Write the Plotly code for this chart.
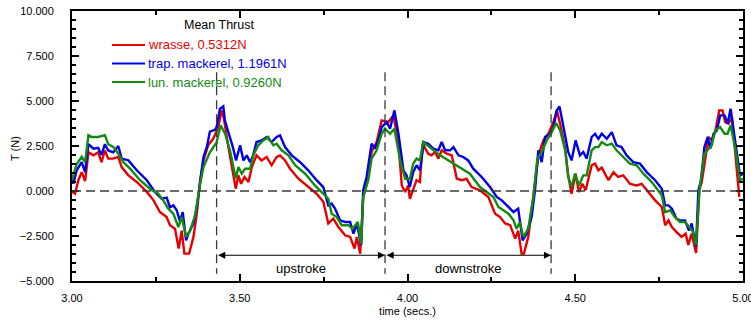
import plotly.graph_objects as go

# ---------------- data ----------------
t_wrasse = [3.000, 3.009, 3.019, 3.029, 3.039, 3.049, 3.064, 3.078, 3.088, 3.098, 3.108, 3.123, 3.138, 3.148,
            3.168, 3.193, 3.223, 3.243, 3.262, 3.282, 3.292, 3.307, 3.318, 3.327, 3.335, 3.349, 3.362, 3.372,
            3.382, 3.392, 3.406, 3.421, 3.436, 3.446, 3.453, 3.466, 3.488, 3.496, 3.504, 3.514, 3.526, 3.536,
            3.550, 3.565, 3.580, 3.595, 3.610, 3.620, 3.635, 3.650, 3.675, 3.699, 3.729, 3.749, 3.764, 3.779,
            3.794, 3.814, 3.829, 3.842, 3.849, 3.859, 3.868, 3.878, 3.893, 3.908, 3.923, 3.943, 3.958, 3.973,
            3.983, 3.993, 4.002, 4.007, 4.017, 4.027, 4.037, 4.045, 4.062, 4.072, 4.082, 4.092, 4.102, 4.117,
            4.132, 4.147, 4.162, 4.176, 4.191, 4.216, 4.241, 4.261, 4.276, 4.291, 4.306, 4.321, 4.330, 4.340,
            4.347, 4.360, 4.375, 4.390, 4.405, 4.420, 4.435, 4.445, 4.455, 4.470, 4.479, 4.489, 4.501, 4.511,
            4.521, 4.531, 4.549, 4.559, 4.569, 4.579, 4.599, 4.614, 4.628, 4.643, 4.663, 4.683, 4.698, 4.718,
            4.738, 4.758, 4.768, 4.778, 4.788, 4.802, 4.817, 4.829, 4.837, 4.847, 4.860, 4.870, 4.877, 4.887,
            4.897, 4.907, 4.917, 4.929, 4.939, 4.947, 4.957, 4.967, 4.976, 4.989]
T_wrasse = [-0.05, -0.15, 0.60, 1.05, 0.55, 2.15, 1.98, 2.15, 1.60, 2.25, 1.80, 1.80, 1.90, 1.33,
            0.87, 0.50, -0.05, -0.52, -1.17, -1.45, -1.90, -2.10, -3.20, -2.20, -3.48, -3.48, -2.55, -1.26,
            0.60, 1.70, 2.55, 2.90, 3.55, 4.48, 4.00, 2.45, 0.13, 0.87, 0.40, 0.78, 0.50, 1.33,
            1.98, 1.70, 1.89, 1.43, 1.89, 1.98, 1.70, 1.24, 0.68, 0.31, -0.15, -0.60, -1.80, -1.54,
            -2.00, -2.46, -2.55, -3.20, -2.55, -3.48, -0.33, 0.40, 2.17, 2.72, 3.92, 3.83, 4.20, 2.63,
            0.31, -0.06, 0.31, -0.43, 0.04, 0.60, 0.50, 2.63, 2.07, 1.98, 2.17, 1.80, 2.26, 2.07,
            1.98, 0.68, 0.60, 0.68, 0.22, 0.04, -0.33, -1.26, -1.45, -1.80, -1.90, -2.65, -2.20, -3.48,
            -3.48, -2.55, -0.33, 1.98, 2.81, 3.18, 3.83, 4.48, 3.74, 2.35, 0.87, -0.15, 0.96, -0.06,
            0.40, 0.04, 1.43, 1.52, 1.15, 1.30, 0.60, 1.05, 0.78, 0.87, 0.40, 0.31, 0.40, -0.06,
            -0.52, -0.89, -1.90, -1.63, -2.00, -2.28, -2.55, -2.37, -3.00, -2.37, -3.44, 0.04, 0.50, 1.70,
            3.00, 2.81, 3.27, 4.48, 4.48, 3.83, 3.74, 4.10, 2.44, -0.33]

t_trap = [3.000, 3.004, 3.014, 3.029, 3.039, 3.049, 3.064, 3.078, 3.088, 3.098, 3.108, 3.123, 3.138, 3.148,
          3.168, 3.193, 3.223, 3.247, 3.267, 3.282, 3.292, 3.302, 3.312, 3.322, 3.330, 3.340, 3.347, 3.362,
          3.372, 3.382, 3.392, 3.402, 3.411, 3.426, 3.431, 3.441, 3.451, 3.456, 3.471, 3.480, 3.489, 3.501,
          3.511, 3.521, 3.531, 3.540, 3.550, 3.565, 3.580, 3.595, 3.610, 3.620, 3.635, 3.655, 3.680, 3.704,
          3.729, 3.749, 3.764, 3.774, 3.784, 3.799, 3.814, 3.829, 3.839, 3.849, 3.862, 3.868, 3.878, 3.893,
          3.903, 3.913, 3.923, 3.938, 3.948, 3.961, 3.973, 3.988, 3.997, 4.007, 4.017, 4.027, 4.037, 4.049,
          4.062, 4.077, 4.092, 4.102, 4.112, 4.127, 4.137, 4.152, 4.166, 4.181, 4.196, 4.221, 4.246, 4.266,
          4.281, 4.296, 4.316, 4.330, 4.343, 4.355, 4.370, 4.380, 4.390, 4.400, 4.410, 4.425, 4.435, 4.445,
          4.453, 4.465, 4.479, 4.489, 4.501, 4.514, 4.524, 4.534, 4.549, 4.559, 4.569, 4.579, 4.594, 4.609,
          4.623, 4.638, 4.653, 4.673, 4.693, 4.713, 4.738, 4.758, 4.768, 4.778, 4.788, 4.802, 4.812, 4.827,
          4.839, 4.847, 4.860, 4.867, 4.875, 4.885, 4.895, 4.902, 4.912, 4.922, 4.932, 4.945, 4.954, 4.963,
          4.976, 4.991, 5.000]
T_trap = [0.87, 0.40, 1.15, 1.60, 1.05, 2.60, 2.35, 2.40, 2.00, 2.60, 2.25, 2.15, 2.50, 1.80,
          1.70, 1.15, 0.60, -0.05, -0.43, -0.37, -0.90, -0.80, -1.07, -1.70, -1.17, -2.74, -2.37, -1.80,
          -0.90, 0.60, 1.90, 2.45, 3.30, 3.40, 3.55, 4.57, 4.70, 3.90, 3.00, 2.40, 1.70, 2.54,
          1.70, 1.98, 1.60, 1.98, 2.72, 2.81, 3.00, 2.72, 3.00, 3.09, 2.44, 1.98, 1.60, 1.15,
          0.60, 0.22, -0.80, -0.70, -0.98, -1.63, -1.72, -1.72, -2.37, -1.80, -3.00, 0.04, 0.78, 2.63,
          2.35, 2.81, 3.55, 3.83, 3.46, 4.48, 3.18, 1.15, 0.87, 0.22, 1.05, 1.43, 1.15, 2.72,
          2.63, 2.35, 2.26, 2.72, 2.26, 2.26, 2.44, 1.98, 1.89, 1.70, 1.24, 0.78, 0.22, -0.33,
          -0.52, -0.80, -1.17, -0.98, -2.74, -2.37, -1.45, 0.04, 2.26, 1.60, 3.00, 3.18, 3.55, 4.48,
          4.70, 3.55, 2.17, 1.70, 2.81, 1.98, 2.17, 1.80, 3.00, 3.18, 2.90, 3.18, 2.90, 3.27,
          2.54, 2.44, 1.98, 1.60, 1.52, 1.05, 0.60, 0.13, -0.80, -0.80, -0.98, -1.54, -1.63, -1.63,
          -2.20, -1.80, -3.10, 0.04, 0.60, 2.44, 3.00, 2.35, 3.18, 3.37, 4.20, 4.20, 3.74, 4.57,
          2.81, 0.87, 0.95]

t_lun = [3.000, 3.014, 3.029, 3.039, 3.049, 3.059, 3.078, 3.098, 3.108, 3.123, 3.138, 3.153, 3.173, 3.203,
         3.232, 3.257, 3.272, 3.287, 3.302, 3.317, 3.327, 3.340, 3.352, 3.367, 3.382, 3.392, 3.411, 3.431,
         3.443, 3.456, 3.471, 3.488, 3.496, 3.506, 3.516, 3.531, 3.540, 3.555, 3.570, 3.585, 3.600, 3.610,
         3.625, 3.645, 3.665, 3.695, 3.724, 3.744, 3.764, 3.774, 3.789, 3.804, 3.824, 3.836, 3.852, 3.862,
         3.868, 3.883, 3.893, 3.908, 3.923, 3.933, 3.948, 3.961, 3.978, 3.993, 4.007, 4.017, 4.027, 4.037,
         4.047, 4.097, 4.147, 4.186, 4.216, 4.241, 4.256, 4.271, 4.286, 4.301, 4.316, 4.325, 4.335, 4.345,
         4.360, 4.375, 4.387, 4.400, 4.415, 4.430, 4.443, 4.455, 4.470, 4.479, 4.489, 4.499, 4.511, 4.524,
         4.534, 4.549, 4.559, 4.569, 4.579, 4.594, 4.609, 4.623, 4.643, 4.663, 4.683, 4.703, 4.728, 4.758,
         4.768, 4.783, 4.797, 4.812, 4.827, 4.839, 4.849, 4.860, 4.870, 4.885, 4.895, 4.907, 4.917, 4.932,
         4.945, 4.954, 4.963, 4.976, 4.991, 5.000]
T_lun = [0.60, 1.50, 1.90, 1.60, 3.10, 3.00, 3.00, 3.10, 2.60, 2.45, 2.07, 1.60, 1.24, 0.60,
         0.13, -0.15, -0.52, -0.98, -1.26, -2.00, -1.45, -2.55, -2.20, -1.35, 0.40, 1.33, 2.15, 2.70,
         3.65, 3.20, 2.25, 0.70, 1.33, 0.96, 1.24, 1.24, 1.98, 2.54, 2.81, 3.00, 2.54, 2.63,
         2.26, 1.98, 1.43, 0.96, 0.31, -0.06, -0.43, -1.26, -1.45, -1.90, -1.90, -2.10, -1.72, -2.93,
         -0.33, 0.60, 1.80, 2.26, 3.18, 3.46, 3.18, 3.46, 1.70, 0.68, 0.68, 1.52, 1.80, 1.70,
         2.72, 1.98, 1.43, 0.96, 0.22, -0.15, -0.33, -0.89, -1.07, -1.26, -1.63, -2.10, -1.72, -2.55,
         -2.10, -0.33, 1.80, 2.17, 2.81, 3.27, 3.78, 3.37, 2.26, 0.78, 0.22, 0.96, 0.31, 0.87,
         0.87, 2.26, 2.44, 2.44, 2.72, 2.54, 2.63, 2.26, 1.89, 1.52, 1.43, 0.96, 0.50, -0.24,
         -1.17, -1.07, -1.45, -1.72, -1.72, -1.98, -2.20, -3.00, 0.04, 2.07, 2.26, 2.54, 3.37, 3.55,
         3.18, 3.18, 3.65, 2.44, 0.60, 0.68]

series_names = ["wrasse, 0.5312N", "trap. mackerel, 1.1961N", "lun. mackerel, 0.9260N"]
series_colors = ["#e60000", "#0000e6", "#138a13"]
legend_title = "Mean Thrust"

stroke_bounds = [3.431, 3.933, 4.428]       # dashed vertical markers (s)
stroke_labels = ["upstroke", "downstroke"]
marker_top, marker_bottom = 6.6, -4.6       # extent of vertical markers (N)
arrow_level, label_level = -3.57, -4.29     # arrow and label heights (N)

x_range = [3.0, 5.0]
y_range = [-5.0, 10.0]

# ---------------- layout helpers ----------------
W, H = 751, 320
ML, MR, MT, MB = 72, 8, 11, 39
PW, PH = W - ML - MR, H - MT - MB


def px(xp):
    return (xp - ML) / PW


def py(yp):
    return 1 - (yp - MT) / PH


FONT = "Liberation Sans, Arial, Helvetica, sans-serif"
DASH = "9px,5px"
DASH_COLOR = "#3a3a3a"

fig = go.Figure()
for tt, vv, name, col in zip([t_wrasse, t_trap, t_lun], [T_wrasse, T_trap, T_lun], series_names, series_colors):
    fig.add_trace(go.Scatter(x=tt, y=vv, mode="lines", line=dict(color=col, width=2.4),
                             name=name, showlegend=False))

# zero line
fig.add_shape(type="line", xref="x", yref="y", x0=x_range[0], x1=x_range[1], y0=0, y1=0,
              line=dict(color=DASH_COLOR, width=1.3, dash=DASH), layer="above")
# stroke boundaries
for b in stroke_bounds:
    fig.add_shape(type="line", xref="x", yref="y", x0=b, x1=b, y0=marker_top, y1=marker_bottom,
                  line=dict(color=DASH_COLOR, width=1.3, dash=DASH), layer="above")

# double arrows and labels
for i, lab in enumerate(stroke_labels):
    a, b = stroke_bounds[i], stroke_bounds[i + 1]
    fig.add_annotation(x=b, y=arrow_level, ax=a, ay=arrow_level, xref="x", yref="y", axref="x", ayref="y",
                       text="", showarrow=True, arrowhead=2, arrowsize=1.3, arrowwidth=1.1,
                       arrowcolor="black", arrowside="end+start", standoff=0, startstandoff=0)
    fig.add_annotation(x=(a + b) / 2, y=label_level, xref="x", yref="y", text=lab, showarrow=False,
                       font=dict(family=FONT, size=13, color="black"))

# legend (drawn by hand for exact placement)
fig.add_annotation(x=px(182), y=py(25), xref="paper", yref="paper",
                   text=legend_title, showarrow=False, xanchor="left", yanchor="middle",
                   font=dict(family=FONT, size=12.5, color="black"))
legend_rows = [45, 63.5, 82]
for name, col, ry in zip(series_names, series_colors, legend_rows):
    fig.add_shape(type="line", xref="paper", yref="paper", x0=px(112), x1=px(145), y0=py(ry), y1=py(ry),
                  line=dict(color=col, width=2.2))
    fig.add_annotation(x=px(146), y=py(ry), xref="paper", yref="paper", text=name, showarrow=False,
                       xanchor="left", yanchor="middle", font=dict(family=FONT, size=13, color=col))

# y-axis title placed by hand
fig.add_annotation(x=px(15), y=py(148), xref="paper", yref="paper", text="T (N)", textangle=-90,
                   showarrow=False, xanchor="center", yanchor="middle",
                   font=dict(family=FONT, size=11, color="black"))

axis_common = dict(showline=True, linecolor="black", linewidth=2, mirror="ticks", ticks="inside",
                   ticklen=7, tickwidth=1.5, tickcolor="black", showgrid=False, zeroline=False,
                   ticklabeloverflow="allow",
                   tickfont=dict(family=FONT, size=11, color="black"))

fig.update_xaxes(range=x_range, dtick=0.5, tick0=3.0, tickformat=".2f", ticklabelstandoff=6,
                 minor=dict(ticks="inside", ticklen=4, dtick=0.25, tickcolor="black", tickwidth=1.5),
                 title=dict(text="time (secs.)", font=dict(family=FONT, size=11, color="black"), standoff=4),
                 **axis_common)
fig.update_yaxes(range=y_range, dtick=2.5, tick0=0, tickformat=".3f", ticklabelstandoff=14,
                 minor=dict(ticks="inside", ticklen=4, dtick=0.5, tickcolor="black", tickwidth=1.5),
                 **axis_common)

fig.update_layout(
    width=W, height=H, autosize=False,
    margin=dict(l=ML, r=MR, t=MT, b=MB, autoexpand=False),
    paper_bgcolor="white", plot_bgcolor="white",
    showlegend=False,
    font=dict(family=FONT, size=11, color="black"),
)

fig.write_html("out.html")
